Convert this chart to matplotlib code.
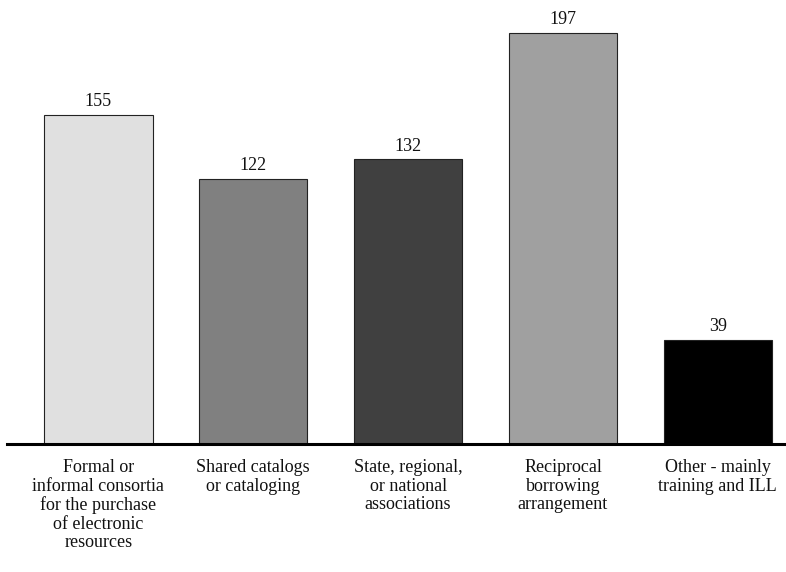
import matplotlib
matplotlib.use('Agg')
import matplotlib.pyplot as plt

categories = ['Formal or\ninformal consortia\nfor the purchase\nof electronic\nresources',
              'Shared catalogs\nor cataloging',
              'State, regional,\nor national\nassociations',
              'Reciprocal\nborrowing\narrangement',
              'Other - mainly\ntraining and ILL']
counts = [155, 122, 132, 197, 39]
colors = ['#e0e0e0', '#808080', '#404040', '#a0a0a0', '#000000']

plt.rcParams['font.family'] = ['Liberation Serif', 'DejaVu Serif']

fig = plt.figure(figsize=(7.86, 5.72), dpi=100)
ax = fig.add_axes([7/786, 1 - 444/572, 1 - 7/786, 444/572])

# the original value axis does not start at zero
base = -14.3
x = list(range(len(counts)))
ax.bar(x, [c - base for c in counts], bottom=base, width=0.7, color=colors,
       edgecolor='#222222', linewidth=0.8, zorder=2)
for xi, v in zip(x, counts):
    ax.text(xi, v + 2.5, str(v), ha='center', va='bottom', fontsize=13, color='#111111')

ax.set_xlim(-0.59, 4.44)
ax.set_ylim(base, 214)
ax.set_xticks(x)
ax.set_xticklabels(categories, fontsize=13, color='#111111', linespacing=1.12)
ax.tick_params(axis='x', length=0, pad=11)
ax.set_yticks([])
for s in ['top', 'right', 'left']:
    ax.spines[s].set_visible(False)
ax.spines['bottom'].set_linewidth(2.2)
ax.spines['bottom'].set_zorder(3)

fig.savefig('out.png', dpi=100)
